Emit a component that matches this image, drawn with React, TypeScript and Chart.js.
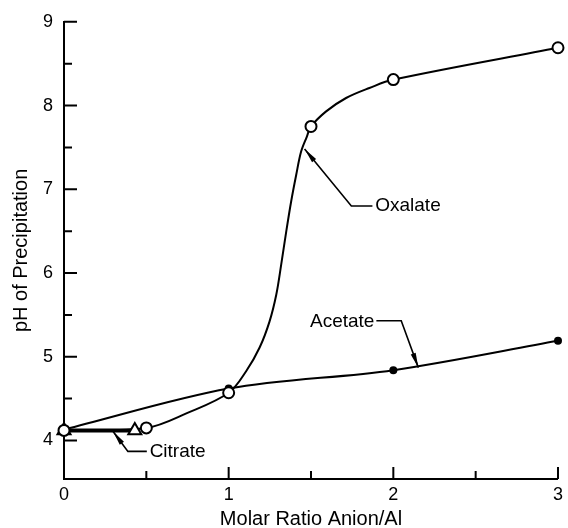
import React, { useEffect, useRef } from "react";
import { Chart, registerables } from "chart.js";

Chart.register(...registerables);

const xTicks = [0, 1, 2, 3];
const yTicks = [4, 5, 6, 7, 8, 9];
const xMinorTicks = [0.5, 1.5, 2.5];
const yMinorTicks = [4.5, 5.5, 6.5, 7.5, 8.5];

// Measured points
const oxalateX = [0, 0.5, 1, 1.5, 2, 3];
const oxalateY = [4.12, 4.15, 4.57, 7.75, 8.31, 8.69];
const acetateX = [0, 1, 2, 3];
const acetateY = [4.13, 4.62, 4.84, 5.19];
const citrateX = [0, 0.43];
const citrateY = [4.12, 4.12];

// Drawn oxalate curve
const oxalateCurveX = [0, 0.5, 0.75, 1, 1.107, 1.188, 1.248, 1.289, 1.319, 1.35, 1.38, 1.41, 1.44, 1.475, 1.5, 1.592, 1.713, 1.855, 2, 3];
const oxalateCurveY = [4.12, 4.15, 4.33, 4.57, 4.83, 5.11, 5.42, 5.74, 6.1, 6.5, 6.86, 7.17, 7.45, 7.63, 7.75, 7.93, 8.09, 8.21, 8.31, 8.69];

const FONT = "'Liberation Sans', Arial, sans-serif";

const toXY = (xs: number[], ys: number[]) => xs.map((x, i) => ({ x, y: ys[i] }));

// Callout labels (data units): tip of leader first
const callouts = [
  { text: "Oxalate", align: "left", tx: 1.89, ty: 6.8, path: [[1.461, 7.48], [1.745, 6.8], [1.873, 6.8]] },
  { text: "Acetate", align: "right", tx: 1.885, ty: 5.42, path: [[2.152, 4.87], [2.048, 5.43], [1.897, 5.43]] },
  { text: "Citrate", align: "left", tx: 0.52, ty: 3.87, path: [[0.297, 4.11], [0.388, 3.87], [0.503, 3.87]] },
];

const decorPlugin = {
  id: "decor",
  afterDatasetsDraw(chart: any) {
    const { ctx, scales } = chart;
    const xs = scales.x;
    const ys = scales.y;
    const left = chart.chartArea.left;
    const bottom = chart.chartArea.bottom;
    ctx.save();
    ctx.strokeStyle = "#000";
    ctx.fillStyle = "#000";
    ctx.lineWidth = 2;
    // inward tick marks
    ctx.beginPath();
    yTicks.forEach((v) => {
      const p = ys.getPixelForValue(v);
      ctx.moveTo(left, p);
      ctx.lineTo(left + 13, p);
    });
    yMinorTicks.forEach((v) => {
      const p = ys.getPixelForValue(v);
      ctx.moveTo(left, p);
      ctx.lineTo(left + 8, p);
    });
    xTicks.slice(1).forEach((v) => {
      const p = xs.getPixelForValue(v);
      ctx.moveTo(p, bottom);
      ctx.lineTo(p, bottom - 12);
    });
    xMinorTicks.forEach((v) => {
      const p = xs.getPixelForValue(v);
      ctx.moveTo(p, bottom);
      ctx.lineTo(p, bottom - 8);
    });
    ctx.stroke();

    // callouts
    ctx.lineWidth = 1.6;
    ctx.font = `19px ${FONT}`;
    ctx.textBaseline = "middle";
    callouts.forEach((c) => {
      const pts = c.path.map(([x, y]) => [xs.getPixelForValue(x), ys.getPixelForValue(y)]);
      ctx.beginPath();
      ctx.moveTo(pts[0][0], pts[0][1]);
      for (let i = 1; i < pts.length; i++) ctx.lineTo(pts[i][0], pts[i][1]);
      ctx.stroke();
      // arrowhead
      const dx = pts[1][0] - pts[0][0];
      const dy = pts[1][1] - pts[0][1];
      const len = Math.hypot(dx, dy);
      const ux = dx / len;
      const uy = dy / len;
      const L = 15;
      const W = 2.6;
      ctx.beginPath();
      ctx.moveTo(pts[0][0], pts[0][1]);
      ctx.lineTo(pts[0][0] + ux * L - uy * W, pts[0][1] + uy * L + ux * W);
      ctx.lineTo(pts[0][0] + ux * L + uy * W, pts[0][1] + uy * L - ux * W);
      ctx.closePath();
      ctx.fill();
      ctx.textAlign = c.align as CanvasTextAlign;
      ctx.fillText(c.text, xs.getPixelForValue(c.tx), ys.getPixelForValue(c.ty));
    });
    ctx.restore();
  },
};

export default function App() {
  const ref = useRef<HTMLCanvasElement | null>(null);
  useEffect(() => {
    if (!ref.current) return;
    const chart = new Chart(ref.current, {
      type: "scatter",
      data: {
        datasets: [
          {
            label: "Oxalate",
            data: toXY(oxalateX, oxalateY),
            showLine: false,
            pointStyle: "circle",
            pointRadius: 5.5,
            pointBorderWidth: 2,
            pointBackgroundColor: "#fff",
            pointBorderColor: "#000",
            clip: false,
          } as any,
          {
            label: "Acetate",
            data: toXY(acetateX, acetateY),
            showLine: true,
            cubicInterpolationMode: "monotone",
            borderColor: "#000",
            borderWidth: 2,
            pointStyle: "circle",
            pointRadius: 4,
            pointBorderWidth: 0,
            pointBackgroundColor: "#000",
            clip: false,
          } as any,
          {
            label: "Citrate",
            data: toXY(citrateX, citrateY),
            showLine: true,
            borderColor: "#000",
            borderWidth: 4,
            pointStyle: "triangle",
            pointRadius: 7.5,
            pointBorderWidth: 2,
            pointBackgroundColor: ["#000", "#fff"],
            pointBorderColor: "#000",
            clip: false,
          } as any,
          {
            label: "Oxalate curve",
            data: toXY(oxalateCurveX, oxalateCurveY),
            showLine: true,
            tension: 0.35,
            borderColor: "#000",
            borderWidth: 2,
            pointRadius: 0,
            clip: false,
          } as any,
        ],
      },
      options: {
        animation: false,
        responsive: false,
        maintainAspectRatio: false,
        layout: { padding: { left: 0, right: 8, top: 20, bottom: 0 } },
        plugins: { legend: { display: false }, tooltip: { enabled: false } },
        scales: {
          x: {
            type: "linear",
            min: 0,
            max: 3,
            afterBuildTicks: (s: any) => {
              s.ticks = xTicks.map((v) => ({ value: v }));
            },
            afterFit: (s: any) => {
              s.height = 49;
            },
            grid: { display: false, drawTicks: false },
            border: { display: true, color: "#000", width: 2 },
            ticks: {
              color: "#000",
              font: { family: FONT, size: 18 },
              padding: 5,
              maxRotation: 0,
              autoSkip: false,
            },
            title: {
              display: true,
              text: "Molar Ratio Anion/Al",
              color: "#000",
              font: { family: FONT, size: 20, lineHeight: 0.9 },
              padding: 0,
            },
          },
          y: {
            type: "linear",
            min: 3.54,
            max: 9,
            afterBuildTicks: (s: any) => {
              s.ticks = yTicks.map((v) => ({ value: v }));
            },
            afterFit: (s: any) => {
              s.width = 64;
            },
            grid: { display: false, drawTicks: false },
            border: { display: true, color: "#000", width: 2 },
            ticks: {
              color: "#000",
              font: { family: FONT, size: 18 },
              padding: 11,
              autoSkip: false,
            },
            title: {
              display: true,
              text: "pH of Precipitation",
              color: "#000",
              font: { family: FONT, size: 20, lineHeight: 1.2 },
              padding: { top: 9, bottom: 0 },
            },
          },
        },
      } as any,
      plugins: [decorPlugin],
    });
    return () => chart.destroy();
  }, []);
  return (
    <div style={{ position: "fixed", left: 0, top: 0, width: 568, height: 528, background: "#fff" }}>
      <canvas ref={ref} width={568} height={528} style={{ display: "block" }} />
    </div>
  );
}
